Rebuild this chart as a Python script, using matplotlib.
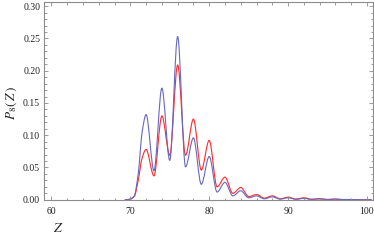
import matplotlib
matplotlib.use('Agg')
import matplotlib.pyplot as plt
from matplotlib.path import Path
from matplotlib.patches import PathPatch
from matplotlib.ticker import MultipleLocator, FormatStrFormatter
import numpy as np

# values (peaks at even Z, dips at odd Z)
z = [69.3, 70.0, 70.5, 71.0, 71.5, 72, 73, 74, 75, 76, 77, 78, 79, 80, 81, 82, 83, 84,
     85, 86, 87, 88, 89, 90, 91, 92, 93, 94, 95, 96, 97, 98, 99, 100.6]
p_blue = [0.0, 0.001, 0.006, 0.040, 0.105, 0.132, 0.045, 0.173, 0.061, 0.253, 0.051,
          0.096, 0.024, 0.067, 0.012, 0.027, 0.006, 0.014, 0.003, 0.006, 0.0015, 0.0045,
          0.001, 0.003, 0.0008, 0.002, 0.0005, 0.0012, 0.0003, 0.0008, 0.0002, 0.0003,
          0.0, 0.0]
p_red = [0.0, 0.001, 0.005, 0.030, 0.065, 0.078, 0.037, 0.130, 0.069, 0.209, 0.069,
         0.125, 0.046, 0.092, 0.020, 0.035, 0.010, 0.019, 0.005, 0.008, 0.0025, 0.006,
         0.0015, 0.004, 0.001, 0.003, 0.0008, 0.0018, 0.0005, 0.0012, 0.0003, 0.0004,
         0.0, 0.0]


def smooth_path(x, y):
    # monotone cubic (pchip) through the points, as bezier segments
    x = np.asarray(x, float)
    y = np.asarray(y, float)
    h = np.diff(x)
    d = np.diff(y) / h
    m = np.zeros_like(y)
    for k in range(1, len(x) - 1):
        if d[k - 1] * d[k] > 0:
            w1 = 2 * h[k] + h[k - 1]
            w2 = h[k] + 2 * h[k - 1]
            m[k] = (w1 + w2) / (w1 / d[k - 1] + w2 / d[k])
    verts = [(x[0], y[0])]
    codes = [Path.MOVETO]
    for k in range(len(x) - 1):
        verts += [(x[k] + h[k] / 3, y[k] + m[k] * h[k] / 3),
                  (x[k + 1] - h[k] / 3, y[k + 1] - m[k + 1] * h[k] / 3),
                  (x[k + 1], y[k + 1])]
        codes += [Path.CURVE4] * 3
    return Path(verts, codes)


plt.rcParams['font.family'] = ['Liberation Serif', 'DejaVu Serif']
plt.rcParams['mathtext.fontset'] = 'stix'

fig = plt.figure(figsize=(3.74, 2.4), dpi=100)
ax = fig.add_axes([0.1185, 0.165, 0.8775, 0.828])

ax.add_patch(PathPatch(smooth_path(z, p_red), fill=False, ec='#ff2a2a', lw=0.8))
ax.add_patch(PathPatch(smooth_path(z, p_blue), fill=False, ec='#6868c0', lw=0.8))

ax.set_xlim(59.1, 100.7)
ax.set_ylim(-0.001, 0.307)

ax.xaxis.set_major_locator(MultipleLocator(10))
ax.xaxis.set_minor_locator(MultipleLocator(2))
ax.yaxis.set_major_locator(MultipleLocator(0.05))
ax.yaxis.set_minor_locator(MultipleLocator(0.01))
ax.yaxis.set_major_formatter(FormatStrFormatter('%.2f'))

gray = '#8c8c8c'
for s in ax.spines.values():
    s.set_color(gray)
    s.set_linewidth(0.8)
ax.tick_params(which='both', direction='in', top=True, right=True, color=gray,
               width=0.6, labelsize=7, labelcolor='#222222')
ax.tick_params(which='major', length=3.2, pad=3)
ax.tick_params(axis='x', which='major', pad=5)
ax.tick_params(which='minor', length=1.8)

fig.text(0.155, 0.05, r'$Z$', fontsize=10, ha='center', va='center', color='#222222')
fig.text(0.03, 0.57, r'$P_8(\,Z\,)$', fontsize=9.5, rotation=90, ha='center',
         va='center', color='#222222')

fig.savefig('out.png', dpi=100)
